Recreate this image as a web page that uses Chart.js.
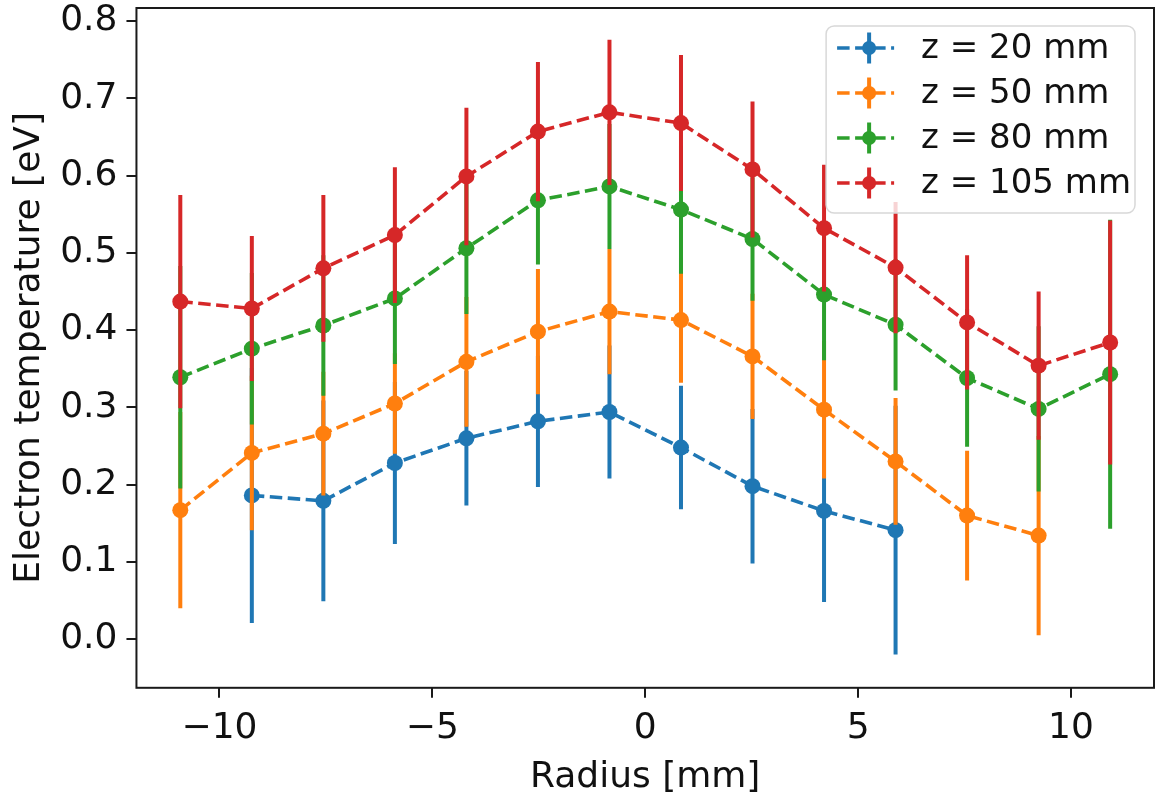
<!DOCTYPE html>
<html>
<head>
<meta charset="utf-8">
<title>Electron temperature vs radius</title>
<script src="https://cdn.jsdelivr.net/npm/chart.js@4.4.1/dist/chart.umd.min.js"></script>
<style>
  html, body { margin: 0; padding: 0; background: #fff; }
  #wrap { width: 1166px; height: 804px; }
</style>
</head>
<body>
<div id="wrap"><canvas id="chart" width="1166" height="804"></canvas></div>
<script>
// probe positions [mm]
const radius = [-10.92, -9.24, -7.56, -5.88, -4.2, -2.52, -0.84, 0.84, 2.52, 4.2, 5.88, 7.56, 9.24, 10.92];

const seriesLabels = ['z = 20 mm', 'z = 50 mm', 'z = 80 mm', 'z = 105 mm'];
const seriesColors = ['#1f77b4', '#ff7f0e', '#2ca02c', '#d62728'];

// electron temperature [eV] and its error, null = no measurement
const te20  = [null, 0.186, 0.179, 0.228, 0.260, 0.282, 0.294, 0.248, 0.198, 0.166, 0.141, null, null, null];
const err20 = [null, 0.165, 0.130, 0.105, 0.087, 0.085, 0.086, 0.080, 0.100, 0.118, 0.161, null, null, null];
const te50  = [0.167, 0.241, 0.266, 0.305, 0.359, 0.398, 0.424, 0.413, 0.366, 0.297, 0.230, 0.160, 0.134, null];
const err50 = [0.127, 0.100, 0.080, 0.065, 0.084, 0.081, 0.081, 0.081, 0.081, 0.089, 0.082, 0.084, 0.129, null];
const te80  = [0.339, 0.376, 0.406, 0.441, 0.506, 0.568, 0.586, 0.556, 0.518, 0.446, 0.407, 0.338, 0.298, 0.343];
const err80 = [0.144, 0.098, 0.091, 0.085, 0.085, 0.083, 0.081, 0.083, 0.080, 0.085, 0.085, 0.089, 0.107, 0.200];
const te105  = [0.437, 0.428, 0.480, 0.523, 0.599, 0.657, 0.682, 0.668, 0.608, 0.532, 0.481, 0.410, 0.354, 0.384];
const err105 = [0.138, 0.094, 0.095, 0.088, 0.089, 0.090, 0.094, 0.088, 0.088, 0.082, 0.085, 0.087, 0.096, 0.158];

const xTicks = [-10, -5, 0, 5, 10];
const yTicks = [0, 0.1, 0.2, 0.3, 0.4, 0.5, 0.6, 0.7, 0.8];

const FONT = 'DejaVu Sans';
const LINE_W = 3.6;
const DASH = [12.5, 5.5];

function toPoints(vals, errs) {
  const pts = [];
  radius.forEach((r, i) => {
    if (vals[i] !== null) pts.push({ x: r, y: vals[i], err: errs[i] });
  });
  return pts;
}

const allValues = [[te20, err20], [te50, err50], [te80, err80], [te105, err105]];

// red must end up on top, Chart.js draws lower "order" last
const datasets = allValues.map(([v, e], i) => ({
  label: seriesLabels[i],
  data: toPoints(v, e),
  borderColor: seriesColors[i],
  backgroundColor: seriesColors[i],
  pointBackgroundColor: seriesColors[i],
  pointBorderWidth: 0,
  pointRadius: 8,
  pointHoverRadius: 8,
  borderWidth: LINE_W,
  borderDash: DASH,
  fill: false,
  tension: 0,
  order: 3 - i
}));

// vertical error bars, drawn just before each dataset's line
const errorBars = {
  id: 'errorBars',
  beforeDatasetDraw(chart, args) {
    const ds = chart.data.datasets[args.index];
    const { x, y } = chart.scales;
    const area = chart.chartArea;
    const ctx = chart.ctx;
    ctx.save();
    ctx.beginPath();
    ctx.rect(area.left, area.top, area.right - area.left, area.bottom - area.top);
    ctx.clip();
    ctx.strokeStyle = ds.borderColor;
    ctx.lineWidth = 4;
    ds.data.forEach(p => {
      const px = x.getPixelForValue(p.x);
      ctx.beginPath();
      ctx.moveTo(px, y.getPixelForValue(p.y - p.err));
      ctx.lineTo(px, y.getPixelForValue(p.y + p.err));
      ctx.stroke();
    });
    ctx.restore();
  }
};

// box around the axes + matplotlib style legend
const frameAndLegend = {
  id: 'frameAndLegend',
  afterDraw(chart) {
    const ctx = chart.ctx;
    const a = chart.chartArea;
    ctx.save();
    ctx.strokeStyle = '#1a1a1a';
    ctx.lineWidth = 2;
    ctx.strokeRect(a.left, a.top, a.right - a.left, a.bottom - a.top);

    // legend
    ctx.font = '34px "' + FONT + '"';
    const textW = Math.max(...seriesLabels.map(s => ctx.measureText(s).width));
    const rowH = 45;
    const boxR = a.right - 19;
    const boxT = a.top + 18;
    const textOff = 95;
    const boxW = textOff + textW + 4;
    const boxH = 187;
    const boxL = boxR - boxW;

    ctx.beginPath();
    ctx.roundRect(boxL, boxT, boxW, boxH, 8);
    ctx.fillStyle = 'rgba(255,255,255,0.8)';
    ctx.fill();
    ctx.strokeStyle = '#d8d8d8';
    ctx.lineWidth = 1.5;
    ctx.stroke();

    seriesLabels.forEach((lab, i) => {
      const cy = boxT + 22 + i * rowH;
      const sx = boxL + 11;
      const mx = sx + 32;
      ctx.strokeStyle = seriesColors[i];
      ctx.lineWidth = LINE_W;
      ctx.setLineDash(DASH);
      ctx.beginPath();
      ctx.moveTo(sx, cy); ctx.lineTo(sx + 57, cy);
      ctx.stroke();
      ctx.setLineDash([]);
      ctx.lineWidth = 4;
      ctx.beginPath();
      ctx.moveTo(mx, cy - 15.5); ctx.lineTo(mx, cy + 15.5);
      ctx.stroke();
      ctx.fillStyle = seriesColors[i];
      ctx.beginPath();
      ctx.arc(mx, cy, 7, 0, Math.PI * 2);
      ctx.fill();
      ctx.fillStyle = '#111';
      ctx.textBaseline = 'middle';
      ctx.textAlign = 'left';
      ctx.fillText(lab, boxL + textOff, cy + 1);
    });
    ctx.restore();
  }
};

const tickFont = { family: FONT, size: 36 };
const xTickFont = { family: FONT, size: 36, lineHeight: 1 };
const titleFont = { family: FONT, size: 36 };
const xTitleFont = { family: FONT, size: 36, lineHeight: 1 };

new Chart(document.getElementById('chart'), {
  type: 'line',
  data: { datasets },
  options: {
    responsive: false,
    animation: false,
    devicePixelRatio: 1,
    layout: { padding: { left: 8, right: 12, top: 6, bottom: 0 } },
    plugins: {
      legend: { display: false },
      tooltip: { enabled: false }
    },
    scales: {
      x: {
        type: 'linear',
        min: -11.95,
        max: 11.95,
        afterBuildTicks: axis => { axis.ticks = xTicks.map(v => ({ value: v })); },
        ticks: {
          font: xTickFont,
          color: '#111',
          padding: 12.8,
          maxRotation: 0,
          callback: v => (v < 0 ? '\u2212' + Math.abs(v) : String(v))
        },
        grid: { display: true, drawOnChartArea: false, drawTicks: true, tickLength: 10, color: '#1a1a1a', lineWidth: 2 },
        border: { display: false },
        title: { display: true, text: 'Radius [mm]', font: xTitleFont, color: '#111', padding: { top: 0, bottom: 8.6 } }
      },
      y: {
        type: 'linear',
        min: -0.063,
        max: 0.817,
        afterBuildTicks: axis => { axis.ticks = yTicks.map(v => ({ value: v })); },
        // the tick labels sit well inside the range, no extra room needed
        afterFit: axis => { axis.paddingTop = 0; axis.paddingBottom = 0; },
        ticks: {
          font: tickFont,
          color: '#111',
          padding: 9,
          callback: v => v.toFixed(1)
        },
        grid: { display: true, drawOnChartArea: false, drawTicks: true, tickLength: 10, color: '#1a1a1a', lineWidth: 2 },
        border: { display: false },
        title: { display: true, text: 'Electron temperature [eV]', font: titleFont, color: '#111', padding: { top: 0, bottom: 0 } }
      }
    }
  },
  plugins: [errorBars, frameAndLegend]
});
</script>
</body>
</html>
